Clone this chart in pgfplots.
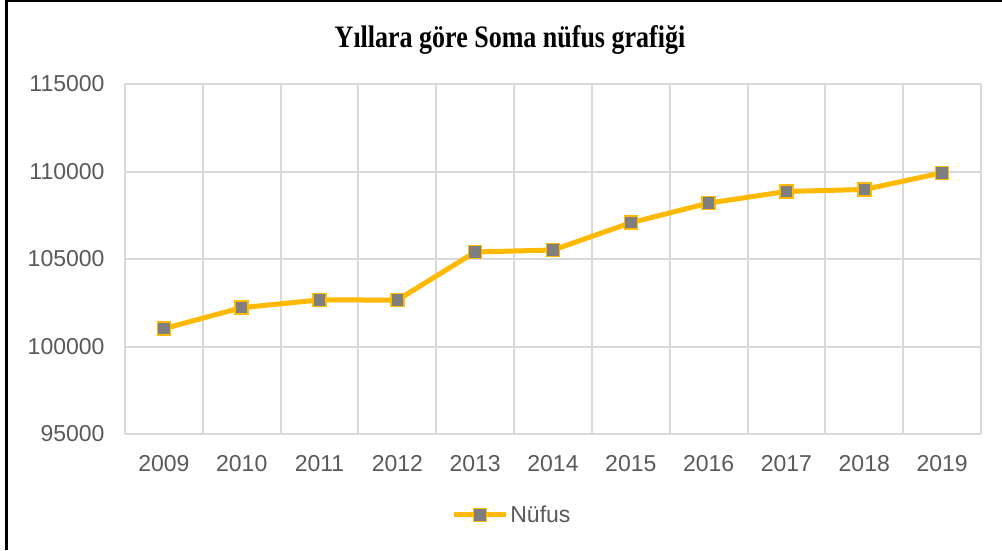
\documentclass[border=0pt]{standalone}
\usepackage{fontspec}
\setmainfont{Liberation Sans}
\newfontfamily\titlefont{Liberation Serif}
\usepackage{pgfplots}
\pgfplotsset{compat=1.18}
\definecolor{lineor}{HTML}{FFB900}
\definecolor{mk}{HTML}{7F7F7F}
\definecolor{gridc}{HTML}{D9D9D9}
\definecolor{tickc}{HTML}{595959}
\begin{document}
\begin{tikzpicture}[x=1pt,y=1pt]
\path[use as bounding box] (0,0) rectangle (1002,550);
\draw[black, line width=2.5pt] (6.5,0) -- (6.5,549) -- (1002,549);
\node[font=\titlefont\bfseries\fontsize{26}{30}\selectfont, text=black, yscale=1.2] at (510,510) {Yıllara göre Soma nüfus grafiği};
\begin{axis}[
  at={(125pt,116pt)}, anchor=south west,
  scale only axis, width=856pt, height=350pt,
  xmin=-0.5, xmax=10.5, ymin=95000, ymax=115000,
  scaled y ticks=false,
  xtick={0,1,2,3,4,5,6,7,8,9,10},
  xticklabels={2009,2010,2011,2012,2013,2014,2015,2016,2017,2018,2019},
  minor xtick={-0.5,0.5,1.5,2.5,3.5,4.5,5.5,6.5,7.5,8.5,9.5,10.5},
  ytick={95000,100000,105000,110000,115000},
  yticklabels={95000,100000,105000,110000,115000},
  ymajorgrids, xminorgrids,
  minor grid style={gridc, line width=2pt},
  major grid style={gridc, line width=2pt},
  axis line style={draw=none},
  major tick length=0pt, minor tick length=0pt,
  tick label style={font=\fontsize{23}{27}\selectfont, text=tickc},
  xticklabel style={yshift=-18pt},
  yticklabel style={xshift=-17pt},
  legend style={at={(0.452,-0.231)}, anchor=center, draw=none, fill=none,
    font=\fontsize{23}{27}\selectfont, text=tickc, inner sep=0pt},
  legend image code/.code={\draw[#1, mark repeat=2, mark phase=2] plot coordinates {(0pt,0pt) (26pt,0pt) (52pt,0pt)};},
  clip=false,
]
\addplot[color=lineor, line width=5pt, mark=square*, mark size=6.5pt,
  mark options={fill=mk, draw=lineor, line width=1.5pt, solid}]
  coordinates {
  (0,101022) (1,102220) (2,102660) (3,102655) (4,105400) (5,105514)
  (6,107072) (7,108196) (8,108858) (9,108973) (10,109924)
  };
\addlegendentry{Nüfus}
\end{axis}
\end{tikzpicture}
\end{document}
